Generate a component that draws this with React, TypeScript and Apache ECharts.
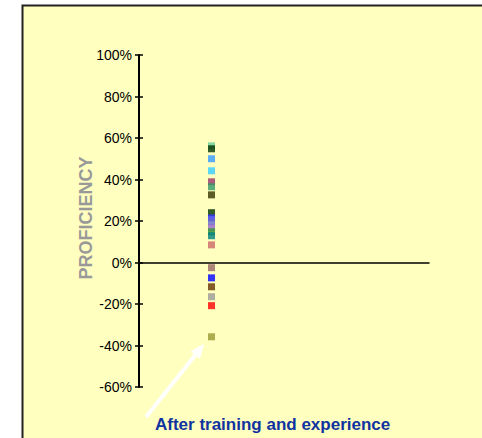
import React, { useEffect, useRef } from "react";
import * as echarts from "echarts";

const yTicks = [-60, -40, -20, 0, 20, 40, 60, 80, 100];
const proficiency = [56.2, 54.8, 50, 44.2, 38.9, 36.5, 32.6, 24, 21.5, 19.6, 16.7, 14.8, 12.9, 8.5, -2.5, -7.4, -11.7, -16.5, -20.8, -35.8];
const pointColors = ["#66cc99", "#003300", "#3399ff", "#33ccff", "#993366", "#339966", "#333300", "#003300", "#3333ff", "#6666cc", "#9966cc", "#339933", "#008080", "#cc6666", "#996666", "#0000ff", "#663300", "#999999", "#ff0000", "#999933"];
const axisTitle = "PROFICIENCY";
const note = "After training and experience";

export default function App() {
  const ref = useRef<HTMLDivElement>(null);
  useEffect(() => {
    if (!ref.current) return;
    document.body.style.margin = "0";
    document.body.style.overflow = "hidden";
    const chart = echarts.init(ref.current, null, { renderer: "svg" });
    const tip = [204, 344];
    const tail = [146, 417];
    const dx = tip[0] - tail[0];
    const dy = tip[1] - tail[1];
    const len = Math.sqrt(dx * dx + dy * dy);
    const ux = dx / len, uy = dy / len;
    const hl = 14, hw = 6;
    const bx = tip[0] - ux * hl, by = tip[1] - uy * hl;
    const px = -uy * hw, py = ux * hw;
    chart.setOption({
      animation: false,
      backgroundColor: "#ffffff",
      graphic: [
        {
          type: "rect",
          z: -10,
          shape: { x: 22, y: 5, width: 500, height: 460 },
          style: { fill: "#ffffc0" },
          silent: true,
        },
        {
          type: "polyline",
          z: -9,
          shape: { points: [[22.5, 460], [22.5, 5.5], [520, 5.5]] },
          style: { stroke: "#222", lineWidth: 2, fill: null },
          silent: true,
        },
        {
          type: "text",
          x: 86,
          y: 218,
          rotation: Math.PI / 2,
          style: {
            text: axisTitle,
            fill: "#999999",
            font: "bold 18px 'Liberation Sans', Arial, sans-serif",
            align: "center",
            verticalAlign: "middle",
          },
        },
        {
          type: "polyline",
          shape: { points: [tail, [bx, by]] },
          style: { stroke: "#ffffff", lineWidth: 4 },
          z: 10,
        },
        {
          type: "polygon",
          shape: { points: [tip, [bx + px, by + py], [bx - px, by - py]] },
          style: { fill: "#ffffff" },
          z: 10,
        },
        {
          type: "text",
          x: 155,
          y: 424,
          style: {
            text: note,
            fill: "#1033a0",
            font: "bold 17px 'Liberation Sans', Arial, sans-serif",
            align: "left",
            verticalAlign: "middle",
          },
        },
      ],
      grid: { left: 139, top: 55, width: 290, height: 332, containLabel: false },
      xAxis: {
        type: "value",
        min: 0,
        max: 4,
        axisLine: { show: true, onZero: true, lineStyle: { color: "#000", width: 1.5 } },
        axisTick: { show: false },
        axisLabel: { show: false },
        splitLine: { show: false },
      },
      yAxis: [
        {
          type: "value",
          min: yTicks[0],
          max: yTicks[yTicks.length - 1],
          interval: 20,
          axisLine: { show: true, onZero: false, lineStyle: { color: "#000", width: 2 } },
          axisTick: { show: true, length: 4, lineStyle: { color: "#000", width: 1.5 } },
          axisLabel: {
            margin: 7,
            color: "#000",
            fontSize: 14,
            fontFamily: "'Liberation Sans', Arial, sans-serif",
            formatter: "{value}%",
          },
          splitLine: { show: false },
        },
        {
          type: "value",
          min: yTicks[0],
          max: yTicks[yTicks.length - 1],
          interval: 20,
          position: "left",
          offset: 0,
          axisLine: { show: false },
          axisTick: { show: true, inside: true, length: 4, lineStyle: { color: "#000", width: 1.5 } },
          axisLabel: { show: false },
          splitLine: { show: false },
        },
      ],
      series: [
        {
          type: "scatter",
          symbol: "rect",
          symbolSize: 7,
          data: proficiency.map((v, i) => ({ value: [1, v], itemStyle: { color: pointColors[i] } })),
          z: 5,
        },
      ],
    });
    return () => chart.dispose();
  }, []);
  return <div ref={ref} style={{ position: "fixed", left: 0, top: 0, width: 500, height: 460 }} />;
}
